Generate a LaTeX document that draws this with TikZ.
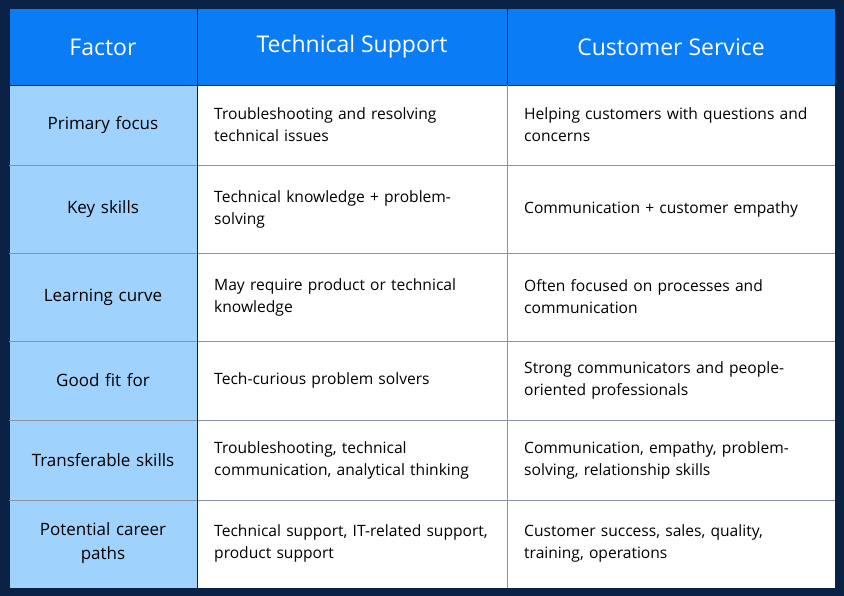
\documentclass[tikz,border=0pt]{standalone}
\usepackage{fontspec}
\setmainfont{Open Sans}
\usepackage{xcolor}
\definecolor{navy}{HTML}{0A2246}
\definecolor{headblue}{HTML}{0A7CF5}
\definecolor{factorblue}{HTML}{9FD2FC}
\definecolor{gridline}{HTML}{8A93A3}
\tikzset{
  head/.style={text=white, font=\fontsize{23}{27}\selectfont},
  factor/.style={align=center, text width=185pt, font=\fontsize{17}{24}\selectfont},
  cell/.style={anchor=west, align=left, text width=300pt, inner sep=0pt, font=\fontsize{15.6}{22}\selectfont}
}
\begin{document}
\begin{tikzpicture}[x=1pt,y=-1pt]
    % Background
    \fill[navy] (0,0) rectangle (844,596);
    \useasboundingbox (0,0) rectangle (844,596);

    % Cell fills
    \fill[headblue] (9,8) rectangle (835,85);
    \fill[factorblue] (9,85) rectangle (197,588);
    \fill[white] (197,85) rectangle (835,588);

    % Grid
    \draw[navy, line width=0.8pt] (9,8) rectangle (835,588);
    \draw[navy, line width=0.8pt] (197,8) -- (197,588);
    \draw[navy, line width=0.8pt] (507,8) -- (507,85);
    \draw[navy, line width=0.8pt] (9,85) -- (835,85);
    \draw[gridline, line width=0.6pt] (507,85) -- (507,588);
    \foreach \y in {165,253,341,420,500}
        \draw[gridline, line width=0.6pt] (9,\y) -- (835,\y);
    \draw[navy, line width=0.8pt] (197,85) -- (197,588);

    % Header
    \node[head] (hfactor) at (103,47) {Factor};
    \node[head] (htech) at (352,47) {Technical Support};
    \node[head] (hcust) at (671,47) {Customer Service};

    % Rows
    \foreach \y/\f/\t/\c [count=\i] in {
        125/{Primary focus}/{Troubleshooting and resolving\\technical issues}/{Helping customers with questions and\\concerns},
        209/{Key skills}/{Technical knowledge + problem-\\solving}/{Communication + customer empathy},
        297/{Learning curve}/{May require product or technical\\knowledge}/{Often focused on processes and\\communication},
        380/{Good fit for}/{Tech-curious problem solvers}/{Strong communicators and people-\\oriented professionals},
        460/{Transferable skills}/{Troubleshooting, technical\\communication, analytical thinking}/{Communication, empathy, problem-\\solving, relationship skills},
        543/{Potential career\\paths}/{Technical support, IT-related support,\\product support}/{Customer success, sales, quality,\\training, operations}
    }{
        \node[factor] (f\i) at (103,\y) {\f};
        \node[cell] (t\i) at (214,\y) {\t};
        \node[cell] (c\i) at (524,\y) {\c};
    }
\end{tikzpicture}
\end{document}
